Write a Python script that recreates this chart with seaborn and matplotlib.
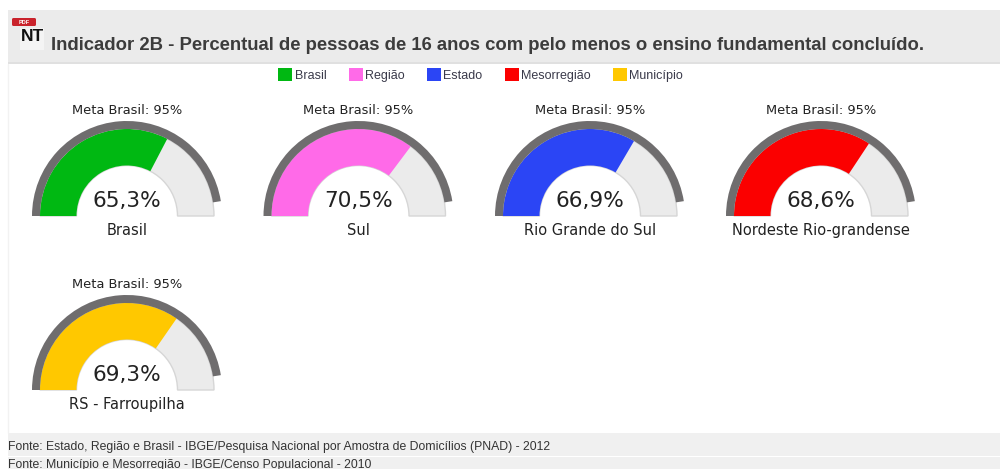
import matplotlib
matplotlib.use("Agg")
import matplotlib.pyplot as plt
from matplotlib.patches import Wedge, Rectangle, FancyBboxPatch
import seaborn as sns

legend_names = ["Brasil", "Região", "Estado", "Mesorregião", "Município"]
gauge_labels = ["Brasil", "Sul", "Rio Grande do Sul", "Nordeste Rio-grandense", "RS - Farroupilha"]
gauge_values = [65.3, 70.5, 66.9, 68.6, 69.3]
goal_value = 95
colors = ["#00b812", "#ff6ae8", "#2b45f5", "#fb0000", "#ffc800"]

title = "Indicador 2B - Percentual de pessoas de 16 anos com pelo menos o ensino fundamental concluído."
sources = [
    "Fonte: Estado, Região e Brasil - IBGE/Pesquisa Nacional por Amostra de Domicílios (PNAD) - 2012",
    "Fonte: Município e Mesorregião - IBGE/Censo Populacional - 2010",
]

sns.set_theme(style="white")
plt.rcParams["font.family"] = ["DejaVu Sans"]
HELV = "Liberation Sans"
WIDTH, HEIGHT = 1000, 469

fig = plt.figure(figsize=(WIDTH / 100, HEIGHT / 100), dpi=100, facecolor="white")
ax = fig.add_axes([0, 0, 1, 1])
ax.set_xlim(0, WIDTH)
ax.set_ylim(0, HEIGHT)
ax.axis("off")


def Y(py):
    # Canvas rows count from the top edge
    return HEIGHT - py


def band(x0, top, x1, bottom, color, z=1):
    ax.add_patch(Rectangle((x0, Y(bottom)), x1 - x0, bottom - top, fc=color, ec="none", zorder=z))


def angle(value):
    return 180 * (1 - value / 100)


def gauge(cx, base, value, goal, color, label):
    cy = Y(base)
    ax.add_patch(Wedge((cx, cy), 87, 0, 180, width=36.5, fc="#ebebeb", ec="#d6d6d6", lw=1, zorder=2))
    ax.add_patch(Wedge((cx, cy), 87, angle(value), 180, width=36.5, fc=color, ec="none", zorder=3))
    # Goal arc around the gauge
    ax.add_patch(Wedge((cx, cy), 95, angle(goal), 180, width=8, fc="#6f6d6e", ec="none", zorder=4))
    ax.text(cx, Y(base - 106), f"Meta Brasil: {goal}%", ha="center", va="center",
            fontsize=9.4, color="#222222", zorder=5)
    ax.text(cx, Y(base - 15), f"{value:.1f}%".replace(".", ","), ha="center", va="center",
            fontsize=15.6, color="#222222", zorder=5)
    ax.text(cx, Y(base + 14), label, ha="center", va="center",
            fontsize=10.5, color="#222222", zorder=5)


# Header and footer strips
band(8, 10, 1000, 62, "#ebebeb")
band(8, 62, 1000, 64, "#e0e0e0")
band(8, 433, 1000, 456, "#f0f0f0")
band(8, 457, 1000, 469, "#f0f0f0")
ax.plot([8, 8], [Y(64), Y(433)], color="#f2f2f2", lw=1)

# Report icon
ax.add_patch(Rectangle((20, Y(50)), 24, 22, fc="#f4f4f4", ec="none", zorder=2))
ax.add_patch(FancyBboxPatch((12, Y(26)), 24, 8, boxstyle="round,pad=0,rounding_size=1.5",
                            fc="#c9222b", ec="none", zorder=3))
ax.text(24, Y(22), "PDF", fontsize=4, color="white", weight="bold", family=HELV,
        ha="center", va="center", zorder=4)
ax.text(32, Y(36), "NT", fontsize=12.5, color="#111111", weight="bold", family=HELV,
        ha="center", va="center", zorder=4)

ax.text(51, Y(45), title, fontsize=13.3, color="#3c3c3c", weight="bold", family=HELV,
        ha="left", va="center", zorder=4)

# Legend row
legend_x = [278, 349, 427, 505, 613]
for x, name, c in zip(legend_x, legend_names, colors):
    band(x, 68, x + 14, 81, c, z=3)
    ax.text(x + 16.5, Y(76), name, fontsize=9, color="#3a3a4a", family=HELV,
            ha="left", va="center", zorder=4)

# Gauges: four on the first row, one below
centers = [(127, 216), (358.5, 216), (590, 216), (821, 216), (127, 390)]
for (cx, base), v, c, lab in zip(centers, gauge_values, colors, gauge_labels):
    gauge(cx, base, v, goal_value, c, lab)

# Source notes
ax.text(8, Y(447), sources[0], fontsize=8.84, color="#333333", family=HELV, ha="left", va="center", zorder=4)
ax.text(8, Y(465), sources[1], fontsize=8.84, color="#333333", family=HELV, ha="left", va="center", zorder=4)

fig.savefig("out.png", dpi=100)
